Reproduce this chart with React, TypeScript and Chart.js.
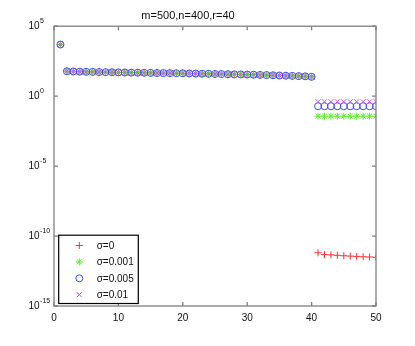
import React, { useEffect, useRef } from "react";
import { Chart, registerables } from "chart.js";

Chart.register(...registerables);

const TITLE = "m=500,n=400,r=40";

const xIndex = [
  1, 2, 3, 4, 5, 6, 7, 8, 9, 10, 11, 12, 13, 14, 15, 16, 17, 18, 19, 20,
  21, 22, 23, 24, 25, 26, 27, 28, 29, 30, 31, 32, 33, 34, 35, 36, 37, 38, 39, 40,
  41, 42, 43, 44, 45, 46, 47, 48, 49, 50,
];

// first 40 singular values (identical for all noise levels)
const leadingValues = [
  4900, 60, 58, 56, 55, 54, 53, 52, 51, 50,
  49, 48, 47.5, 46.5, 46, 45, 44.5, 44, 43.5, 43,
  42, 41, 40, 39.5, 38.5, 38, 37, 36, 35.5, 35,
  34, 33, 32, 31, 30, 29, 28, 27, 26, 24,
];

const tailSigma0 = [6.4e-12, 4.7e-12, 4.5e-12, 4.2e-12, 3.9e-12, 3.7e-12, 3.5e-12, 3.3e-12, 3.2e-12, 3.0e-12];
const tailSigma001 = [0.037, 0.037, 0.037, 0.037, 0.037, 0.037, 0.037, 0.037, 0.037, 0.037];
const tailSigma005 = [0.19, 0.19, 0.19, 0.19, 0.19, 0.19, 0.19, 0.19, 0.19, 0.19];
const tailSigma01 = [0.4, 0.4, 0.4, 0.4, 0.4, 0.4, 0.4, 0.4, 0.4, 0.4];

const seriesLabels = ["σ=0", "σ=0.001", "σ=0.005", "σ=0.01"];
const seriesTails = [tailSigma0, tailSigma001, tailSigma005, tailSigma01];
const seriesColors = ["#ff3030", "#55ee22", "#3a4cff", "#c850ff"];
const seriesMarkers = ["cross", "star", "circle", "crossRot"];

const xTicks = [0, 10, 20, 30, 40, 50];
const yTickValues = [1e-15, 1e-10, 1e-5, 1, 1e5];
const yTickExponents = ["-15", "-10", "-5", "0", "5"];

const AXIS_COLOR = "#808080";
const TEXT_COLOR = "#111111";
const FONT = "'Liberation Sans', Arial, sans-serif";

const decorPlugin = {
  id: "decor",
  afterDraw(chart: any) {
    const { ctx, chartArea: a, scales } = chart;
    const xs = scales.x;
    const ys = scales.y;
    ctx.save();
    // axes box
    ctx.strokeStyle = AXIS_COLOR;
    ctx.lineWidth = 1.3;
    ctx.strokeRect(a.left, a.top, a.right - a.left, a.bottom - a.top);
    // inward ticks
    ctx.beginPath();
    xTicks.forEach((v) => {
      const px = xs.getPixelForValue(v);
      ctx.moveTo(px, a.bottom);
      ctx.lineTo(px, a.bottom - 4);
      ctx.moveTo(px, a.top);
      ctx.lineTo(px, a.top + 4);
    });
    yTickValues.forEach((v) => {
      const py = ys.getPixelForValue(v);
      ctx.moveTo(a.left, py);
      ctx.lineTo(a.left + 4, py);
      ctx.moveTo(a.right, py);
      ctx.lineTo(a.right - 4, py);
    });
    ctx.stroke();

    // y tick labels with superscript exponents
    ctx.fillStyle = TEXT_COLOR;
    ctx.textBaseline = "middle";
    ctx.textAlign = "left";
    yTickValues.forEach((v, i) => {
      const py = ys.getPixelForValue(v);
      ctx.font = `10px ${FONT}`;
      const baseX = a.left - 25.5;
      ctx.fillText("10", baseX, py + 0.5);
      const bw = ctx.measureText("10").width;
      ctx.font = `7px ${FONT}`;
      ctx.fillText(yTickExponents[i], baseX + bw + 0.5, py - 5);
    });

    // legend box
    const lx = a.left + 4.7;
    const ly = a.top + 209;
    const lw = 79.6;
    const lh = 68.3;
    ctx.fillStyle = "#ffffff";
    ctx.fillRect(lx, ly, lw, lh);
    ctx.strokeStyle = "#000000";
    ctx.lineWidth = 1.2;
    ctx.strokeRect(lx, ly, lw, lh);
    chart.data.datasets.forEach((ds: any, i: number) => {
      const cy = ly + 10.3 + i * 16.4;
      const cx = lx + 20.6;
      Chart.helpers
        ? null
        : null;
      ctx.save();
      ctx.strokeStyle = ds.borderColor;
      ctx.fillStyle = "rgba(0,0,0,0)";
      ctx.lineWidth = 1;
      drawMarker(ctx, ds.pointStyle, cx, cy, 3.5);
      ctx.restore();
      ctx.fillStyle = TEXT_COLOR;
      ctx.font = `10px ${FONT}`;
      ctx.textAlign = "left";
      ctx.textBaseline = "middle";
      ctx.fillText(ds.label, lx + 38, cy + 0.5);
    });
    ctx.restore();
  },
};

function drawMarker(ctx: CanvasRenderingContext2D, style: string, x: number, y: number, r: number) {
  ctx.beginPath();
  const d = r * Math.SQRT1_2;
  if (style === "cross" || style === "star") {
    ctx.moveTo(x - r, y);
    ctx.lineTo(x + r, y);
    ctx.moveTo(x, y - r);
    ctx.lineTo(x, y + r);
  }
  if (style === "crossRot" || style === "star") {
    ctx.moveTo(x - d, y - d);
    ctx.lineTo(x + d, y + d);
    ctx.moveTo(x - d, y + d);
    ctx.lineTo(x + d, y - d);
  }
  if (style === "circle") {
    ctx.arc(x, y, r, 0, Math.PI * 2);
  }
  ctx.stroke();
}

export default function App() {
  const canvasRef = useRef<HTMLCanvasElement | null>(null);

  useEffect(() => {
    document.body.style.margin = "0";
    const canvas = canvasRef.current;
    if (!canvas) return;

    const datasets = seriesLabels.map((label, i) => ({
      label,
      data: xIndex.map((x, k) => ({
        x,
        y: k < leadingValues.length ? leadingValues[k] : seriesTails[i][k - leadingValues.length],
      })),
      showLine: false,
      borderColor: seriesColors[i],
      backgroundColor: "rgba(0,0,0,0)",
      pointStyle: seriesMarkers[i],
      pointRadius: 3.5,
      pointBorderWidth: 1,
      pointBorderColor: seriesColors[i],
      pointBackgroundColor: "rgba(0,0,0,0)",
      order: seriesLabels.length - 1 - i,
    }));

    const chart = new Chart(canvas, {
      type: "scatter",
      data: { datasets },
      plugins: [decorPlugin],
      options: {
        animation: false,
        responsive: false,
        devicePixelRatio: 1,
        events: [],
        layout: { padding: { left: 0, right: 39, top: 0, bottom: 0 } },
        plugins: {
          legend: { display: false },
          tooltip: { enabled: false },
          title: {
            display: true,
            text: TITLE,
            color: TEXT_COLOR,
            font: { family: FONT, size: 11, weight: "normal" },
            padding: { top: 9, bottom: 4 },
          },
        },
        scales: {
          x: {
            type: "linear",
            min: 0,
            max: 50,
            grid: { display: false, drawTicks: false },
            border: { display: false },
            afterBuildTicks: (scale: any) => {
              scale.ticks = xTicks.map((v) => ({ value: v }));
            },
            afterFit: (scale: any) => {
              scale.height = 40;
            },
            ticks: {
              color: TEXT_COLOR,
              padding: 6,
              maxRotation: 0,
              font: { family: FONT, size: 10 },
            },
          },
          y: {
            type: "logarithmic",
            min: 1e-15,
            max: 1e5,
            grid: { display: false, drawTicks: false },
            border: { display: false },
            afterBuildTicks: (scale: any) => {
              scale.ticks = yTickValues.map((v) => ({ value: v }));
            },
            afterFit: (scale: any) => {
              scale.width = 54;
            },
            ticks: { display: false },
          },
        },
      } as any,
    });

    return () => {
      chart.destroy();
    };
  }, []);

  return (
    <div style={{ width: 415, height: 346, background: "#ffffff" }}>
      <canvas ref={canvasRef} width={415} height={346} style={{ width: 415, height: 346, display: "block" }} />
    </div>
  );
}
